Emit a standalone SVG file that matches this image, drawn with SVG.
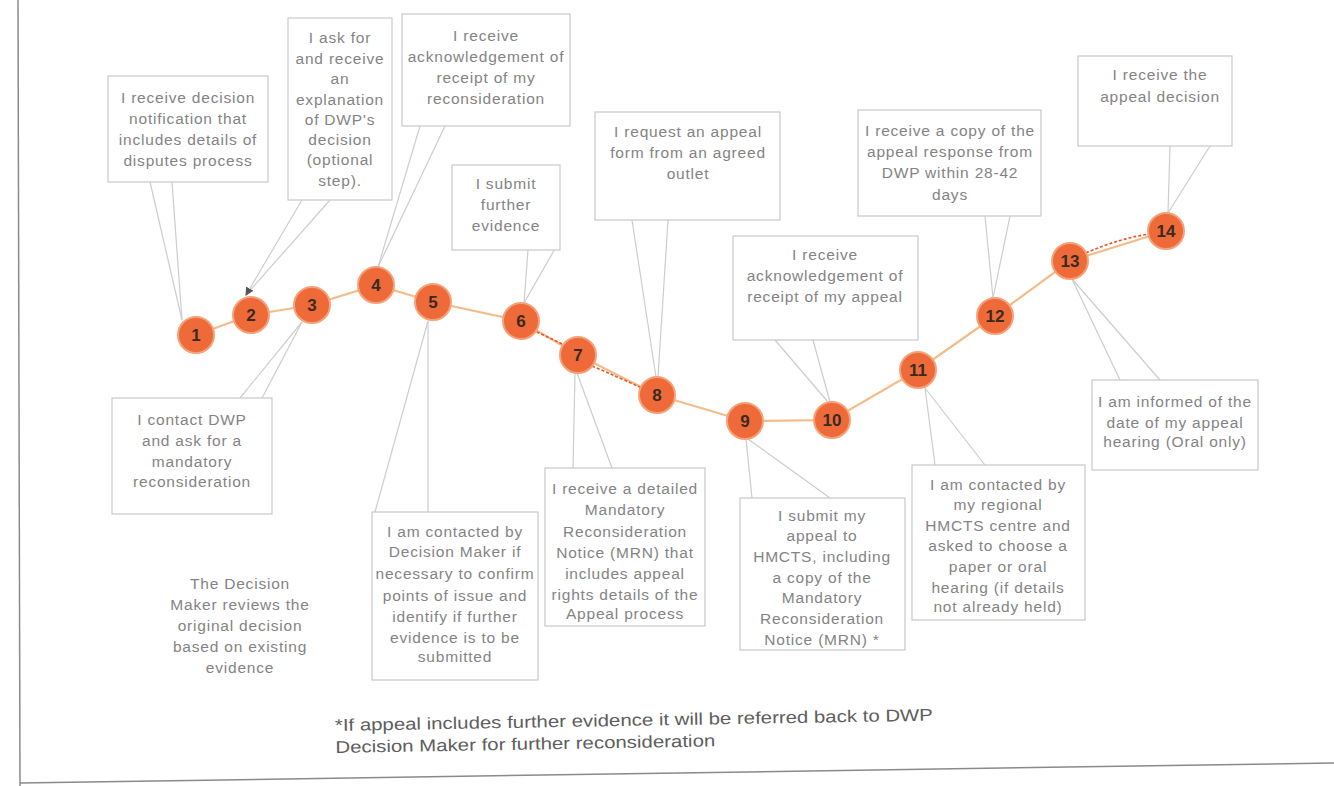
<svg xmlns="http://www.w3.org/2000/svg" width="1334" height="786" viewBox="0 0 1334 786">
<defs>
<style>
.box{fill:#fff;stroke:#c9c9c9;stroke-width:1.2}
.t{font-family:"Liberation Sans",Arial,sans-serif;font-size:15.5px;letter-spacing:0.8px;fill:#848484;text-anchor:middle}
.n circle{fill:#ee6a38;stroke:#f5a27a;stroke-width:2}
.n text{font-family:"Liberation Sans",Arial,sans-serif;font-size:17px;font-weight:bold;fill:#3a2a22;text-anchor:middle}
.tail{stroke:#cdcdcd;stroke-width:1.2;fill:none}
.line{stroke:#f3bd8a;stroke-width:2.2;fill:none}
.dash{stroke:#e8542c;stroke-width:1.6;fill:none;stroke-dasharray:3 2}
.foot{font-family:"Liberation Sans",Arial,sans-serif;font-size:17px;fill:#5e5e5e}
</style>
<marker id="ah" viewBox="0 0 8 8" refX="7" refY="4" markerWidth="7" markerHeight="7" orient="auto"><path d="M0,0 L8,4 L0,8 z" fill="#555"/></marker>
</defs>
<rect width="1334" height="786" fill="#fff"/>
<g id="frame" stroke="#8a8a8a" stroke-width="1.5" fill="none">
<line x1="18" y1="0" x2="20" y2="786"/>
<line x1="20" y1="783" x2="1334" y2="763"/>
</g>
<g id="connectors">
<polyline class="line" points="196,335 251,315 312,305 376,285 433,302 521,321 578,355 657,395 745,421 832,420 918,370 995,316 1070,261 1166,231"/>
<path class="dash" d="M532,330 Q555,340 568,347"/>
<path class="dash" d="M592,366 Q620,378 642,388"/>
<path class="dash" d="M1086,253 Q1120,238 1150,234"/>
<line class="tail" x1="150" y1="182" x2="182" y2="320"/>
<line class="tail" x1="172" y1="182" x2="182" y2="320"/>
<line class="tail" x1="330" y1="200" x2="246" y2="295"/>
<line class="tail" x1="302" y1="200" x2="246" y2="295" marker-end="url(#ah)"/>
<line class="tail" x1="240" y1="398" x2="302" y2="322"/>
<line class="tail" x1="262" y1="398" x2="302" y2="322"/>
<line class="tail" x1="420" y1="126" x2="378" y2="267"/>
<line class="tail" x1="445" y1="126" x2="378" y2="267"/>
<line class="tail" x1="375" y1="512" x2="428" y2="321"/>
<line class="tail" x1="428" y1="512" x2="428" y2="321"/>
<line class="tail" x1="528" y1="250" x2="524" y2="303"/>
<line class="tail" x1="560" y1="240" x2="524" y2="303"/>
<line class="tail" x1="573" y1="468" x2="575" y2="373"/>
<line class="tail" x1="612" y1="468" x2="577" y2="373"/>
<line class="tail" x1="632" y1="220" x2="656" y2="377"/>
<line class="tail" x1="668" y1="220" x2="658" y2="377"/>
<line class="tail" x1="752" y1="498" x2="746" y2="439"/>
<line class="tail" x1="830" y1="498" x2="748" y2="439"/>
<line class="tail" x1="775" y1="340" x2="828" y2="402"/>
<line class="tail" x1="813" y1="340" x2="830" y2="402"/>
<line class="tail" x1="935" y1="465" x2="925" y2="388"/>
<line class="tail" x1="985" y1="465" x2="925" y2="388"/>
<line class="tail" x1="985" y1="216" x2="993" y2="298"/>
<line class="tail" x1="1010" y1="216" x2="993" y2="298"/>
<line class="tail" x1="1120" y1="380" x2="1072" y2="279"/>
<line class="tail" x1="1160" y1="380" x2="1072" y2="279"/>
<line class="tail" x1="1170" y1="146" x2="1168" y2="213"/>
<line class="tail" x1="1210" y1="146" x2="1168" y2="213"/>
</g>
<g id="box1"><rect class="box" x="108" y="76" width="160" height="106"/>
<text class="t"><tspan x="188" y="103">I receive decision</tspan><tspan x="188" y="124">notification that</tspan><tspan x="188" y="145">includes details of</tspan><tspan x="188" y="166">disputes process</tspan></text></g>
<g id="box2"><rect class="box" x="288" y="18" width="104" height="182"/>
<text class="t"><tspan x="340" y="43">I ask for</tspan><tspan x="340" y="64">and receive</tspan><tspan x="340" y="84">an</tspan><tspan x="340" y="105">explanation</tspan><tspan x="340" y="125">of DWP's</tspan><tspan x="340" y="145">decision</tspan><tspan x="340" y="165">(optional</tspan><tspan x="340" y="186">step).</tspan></text></g>
<g id="box4"><rect class="box" x="402" y="14" width="168" height="112"/>
<text class="t"><tspan x="486" y="41">I receive</tspan><tspan x="486" y="62">acknowledgement of</tspan><tspan x="486" y="83">receipt of my</tspan><tspan x="486" y="104">reconsideration</tspan></text></g>
<g id="box6"><rect class="box" x="452" y="165" width="108" height="85"/>
<text class="t"><tspan x="506" y="189">I submit</tspan><tspan x="506" y="210">further</tspan><tspan x="506" y="231">evidence</tspan></text></g>
<g id="box8"><rect class="box" x="595" y="112" width="185" height="108"/>
<text class="t"><tspan x="688" y="137">I request an appeal</tspan><tspan x="688" y="158">form from an agreed</tspan><tspan x="688" y="179">outlet</tspan></text></g>
<g id="box10"><rect class="box" x="733" y="236" width="185" height="104"/>
<text class="t"><tspan x="825" y="260">I receive</tspan><tspan x="825" y="281">acknowledgement of</tspan><tspan x="825" y="302">receipt of my appeal</tspan></text></g>
<g id="box12"><rect class="box" x="858" y="110" width="183" height="106"/>
<text class="t"><tspan x="950" y="136">I receive a copy of the</tspan><tspan x="950" y="157">appeal response from</tspan><tspan x="950" y="178">DWP within 28-42</tspan><tspan x="950" y="200">days</tspan></text></g>
<g id="box14"><rect class="box" x="1078" y="56" width="154" height="90"/>
<text class="t"><tspan x="1160" y="80">I receive the</tspan><tspan x="1160" y="102">appeal decision</tspan></text></g>
<g id="box3"><rect class="box" x="112" y="398" width="160" height="116"/>
<text class="t"><tspan x="192" y="425">I contact DWP</tspan><tspan x="192" y="446">and ask for a</tspan><tspan x="192" y="467">mandatory</tspan><tspan x="192" y="487">reconsideration</tspan></text></g>
<g id="box5"><rect class="box" x="372" y="512" width="166" height="168"/>
<text class="t"><tspan x="455" y="537">I am contacted by</tspan><tspan x="455" y="557">Decision Maker if</tspan><tspan x="455" y="579">necessary to confirm</tspan><tspan x="455" y="601">points of issue and</tspan><tspan x="455" y="622">identify if further</tspan><tspan x="455" y="643">evidence is to be</tspan><tspan x="455" y="662">submitted</tspan></text></g>
<g id="review"><text class="t"><tspan x="240" y="589">The Decision</tspan><tspan x="240" y="610">Maker reviews the</tspan><tspan x="240" y="631">original decision</tspan><tspan x="240" y="652">based on existing</tspan><tspan x="240" y="673">evidence</tspan></text></g>
<g id="box7"><rect class="box" x="545" y="468" width="160" height="158"/>
<text class="t"><tspan x="625" y="494">I receive a detailed</tspan><tspan x="625" y="515">Mandatory</tspan><tspan x="625" y="537">Reconsideration</tspan><tspan x="625" y="558">Notice (MRN) that</tspan><tspan x="625" y="579">includes appeal</tspan><tspan x="625" y="600">rights details of the</tspan><tspan x="625" y="619">Appeal process</tspan></text></g>
<g id="box9"><rect class="box" x="740" y="498" width="165" height="152"/>
<text class="t"><tspan x="822" y="521">I submit my</tspan><tspan x="822" y="541">appeal to</tspan><tspan x="822" y="562">HMCTS, including</tspan><tspan x="822" y="583">a copy of  the</tspan><tspan x="822" y="603">Mandatory</tspan><tspan x="822" y="624">Reconsideration</tspan><tspan x="822" y="645">Notice (MRN) *</tspan></text></g>
<g id="box11"><rect class="box" x="912" y="465" width="173" height="155"/>
<text class="t"><tspan x="998" y="490">I am contacted by</tspan><tspan x="998" y="510">my regional</tspan><tspan x="998" y="531">HMCTS centre and</tspan><tspan x="998" y="551">asked to choose a</tspan><tspan x="998" y="572">paper or oral</tspan><tspan x="998" y="593">hearing (if details</tspan><tspan x="998" y="612">not already held)</tspan></text></g>
<g id="box13"><rect class="box" x="1092" y="380" width="166" height="90"/>
<text class="t"><tspan x="1175" y="407">I am informed of the</tspan><tspan x="1175" y="428">date of my appeal</tspan><tspan x="1175" y="447">hearing (Oral only)</tspan></text></g>
<g id="node1" class="n"><circle cx="196" cy="335" r="18"/><text x="196" y="341">1</text></g>
<g id="node2" class="n"><circle cx="251" cy="315" r="18"/><text x="251" y="321">2</text></g>
<g id="node3" class="n"><circle cx="312" cy="305" r="18"/><text x="312" y="311">3</text></g>
<g id="node4" class="n"><circle cx="376" cy="285" r="18"/><text x="376" y="291">4</text></g>
<g id="node5" class="n"><circle cx="433" cy="302" r="18"/><text x="433" y="308">5</text></g>
<g id="node6" class="n"><circle cx="521" cy="321" r="18"/><text x="521" y="327">6</text></g>
<g id="node7" class="n"><circle cx="578" cy="355" r="18"/><text x="578" y="361">7</text></g>
<g id="node8" class="n"><circle cx="657" cy="395" r="18"/><text x="657" y="401">8</text></g>
<g id="node9" class="n"><circle cx="745" cy="421" r="18"/><text x="745" y="427">9</text></g>
<g id="node10" class="n"><circle cx="832" cy="420" r="18"/><text x="832" y="426">10</text></g>
<g id="node11" class="n"><circle cx="918" cy="370" r="18"/><text x="918" y="376">11</text></g>
<g id="node12" class="n"><circle cx="995" cy="316" r="18"/><text x="995" y="322">12</text></g>
<g id="node13" class="n"><circle cx="1070" cy="261" r="18"/><text x="1070" y="267">13</text></g>
<g id="node14" class="n"><circle cx="1166" cy="231" r="18"/><text x="1166" y="237">14</text></g>
<g id="footnote" transform="rotate(-1 335 730)"><text class="foot"><tspan x="335" y="731" textLength="598" lengthAdjust="spacingAndGlyphs">*If appeal includes further evidence it will be referred back to DWP</tspan><tspan x="335" y="753" textLength="380" lengthAdjust="spacingAndGlyphs">Decision Maker for further reconsideration</tspan></text></g>
</svg>
